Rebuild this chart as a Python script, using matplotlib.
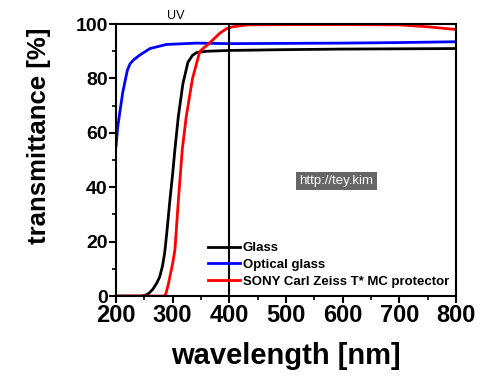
import matplotlib
matplotlib.use("Agg")
import matplotlib.pyplot as plt
from matplotlib.ticker import MultipleLocator

plt.rcParams["font.family"] = ["Liberation Sans", "DejaVu Sans"]

# transmittance readings [%] vs wavelength [nm]
glass_wl = [200, 245, 252, 258, 265, 272, 277, 282, 286, 290, 295, 300, 304, 310,
            318, 327, 335, 342, 360, 400, 500, 600, 700, 800]
glass_t = [0, 0, 0.3, 1.0, 2.5, 4.8, 7, 11, 16, 24, 35, 45, 54, 66,
           78, 86, 88.5, 89.5, 90, 90.3, 90.6, 90.8, 90.9, 91]

optical_wl = [200, 203, 207, 212, 216, 220, 225, 232, 242, 260, 289, 342, 400,
              500, 600, 700, 800]
optical_t = [55, 62, 68, 75, 79, 83, 85.5, 87, 88.6, 91, 92.5, 93, 92.8,
             92.9, 93, 93.2, 93.5]

zeiss_wl = [200, 285, 288, 292, 295, 300, 304, 310, 317, 324, 335, 348, 365,
            383, 395, 406, 432, 500, 600, 700, 750, 800]
zeiss_t = [0, 0, 0.8, 4, 7, 12, 17, 35, 54, 66, 80, 90, 93,
           96.6, 98.3, 99, 99.7, 99.8, 99.8, 99.7, 99, 98]

series = [
    ("Glass", glass_wl, glass_t, "black"),
    ("Optical glass", optical_wl, optical_t, "#0000ff"),
    ("SONY Carl Zeiss T* MC protector", zeiss_wl, zeiss_t, "#ff0000"),
]

fig = plt.figure(figsize=(5.0, 3.82), dpi=100)
ax = fig.add_axes([0.232, 0.225, 0.68, 0.712])

for label, wl, t, color in series:
    ax.plot(wl, t, color=color, lw=2, label=label)

ax.plot([400, 400], [0, 100], color="black", lw=1.5)
ax.text(305, 103, "UV", ha="center", va="center", fontsize=9, clip_on=False)
ax.text(589, 42.3, "http://tey.kim", ha="center", va="center", fontsize=9.5,
        color="white", bbox=dict(facecolor="#666666", edgecolor="none", pad=2.5))

ax.set_xlim(200, 800)
ax.set_ylim(0, 100)
ax.xaxis.set_major_locator(MultipleLocator(100))
ax.xaxis.set_minor_locator(MultipleLocator(50))
ax.yaxis.set_major_locator(MultipleLocator(20))
ax.yaxis.set_minor_locator(MultipleLocator(10))
ax.tick_params(which="major", direction="out", length=5, width=1.5)
ax.tick_params(which="minor", direction="out", length=3, width=1.2)
ax.tick_params(axis="x", labelsize=17, pad=1)
ax.tick_params(axis="y", labelsize=14, pad=1)
for lab in ax.get_xticklabels() + ax.get_yticklabels():
    lab.set_fontweight("bold")
for sp in ax.spines.values():
    sp.set_linewidth(1.5)

ax.set_xlabel("wavelength [nm]", fontsize=21, fontweight="bold")
ax.set_ylabel("transmittance [%]", fontsize=18.5, fontweight="bold")
ax.xaxis.set_label_coords(0.5, -0.17)
ax.yaxis.set_label_coords(-0.19, 0.59)

ax.legend(loc="lower left", bbox_to_anchor=(0.27, 0.03), frameon=False,
          prop={"weight": "bold", "size": 9.5}, handlelength=2.45,
          handletextpad=0.2, labelspacing=0.35, borderpad=0, borderaxespad=0)

fig.savefig("out.png", dpi=100)
